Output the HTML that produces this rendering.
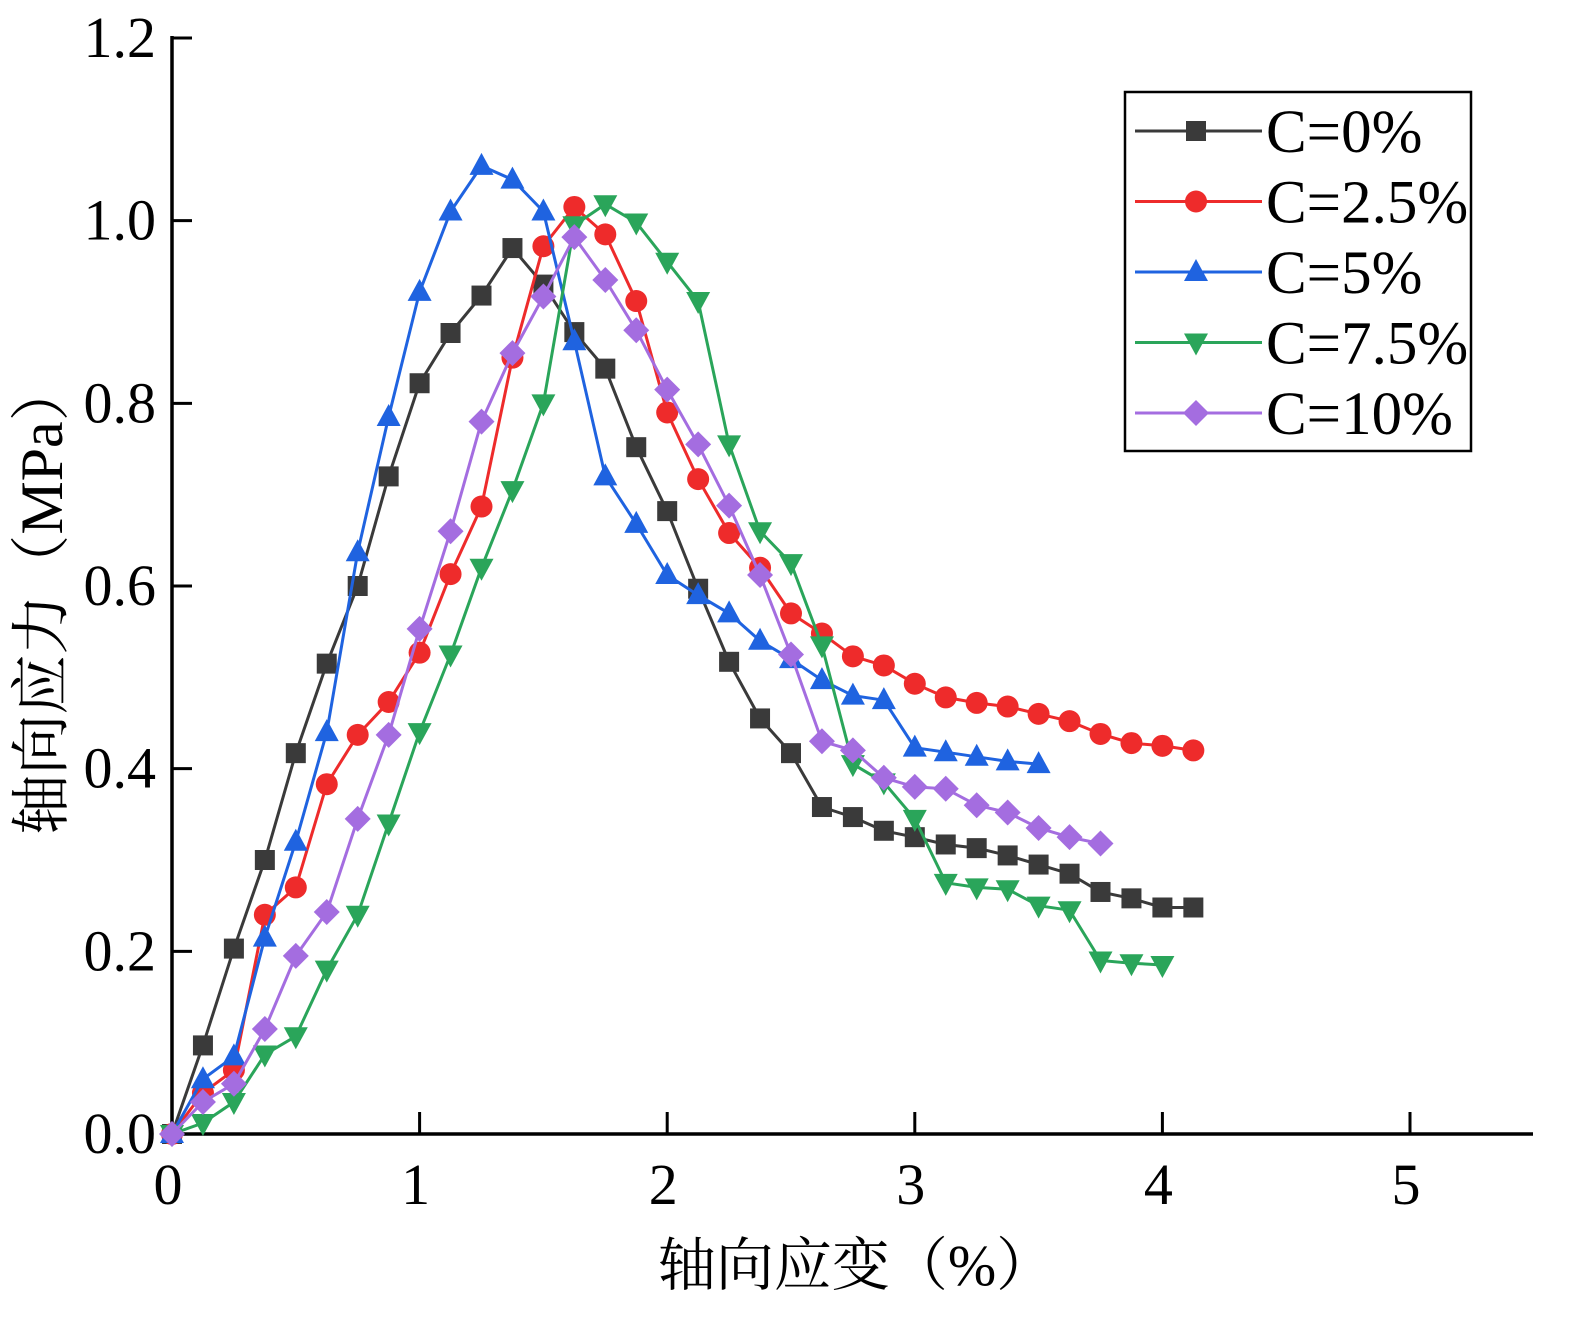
<!DOCTYPE html>
<html><head><meta charset="utf-8"><style>
html,body{margin:0;padding:0;background:#fff;}
svg{display:block;}
text{font-family:"Liberation Serif","Noto Serif CJK SC",serif;fill:#000;}
</style></head><body>
<svg id="chart" width="1596" height="1321" viewBox="0 0 1596 1321" xmlns="http://www.w3.org/2000/svg"></svg>
<script>
const xTicks=[0,1,2,3,4,5];
const yTicks=[0.0,0.2,0.4,0.6,0.8,1.0,1.2];
const yTickLabels=["0.0","0.2","0.4","0.6","0.8","1.0","1.2"];
const seriesNames=["C=0%","C=2.5%","C=5%","C=7.5%","C=10%"];
const strainStep=0.125;
const c0=[0,0.097,0.203,0.3,0.417,0.515,0.6,0.72,0.822,0.877,0.918,0.97,0.93,0.878,0.838,0.752,0.682,0.597,0.517,0.455,0.417,0.358,0.347,0.332,0.325,0.317,0.313,0.305,0.295,0.285,0.265,0.258,0.248,0.248];
const c25=[0,0.045,0.07,0.24,0.27,0.383,0.437,0.473,0.527,0.613,0.687,0.85,0.972,1.015,0.985,0.912,0.79,0.717,0.658,0.62,0.57,0.548,0.523,0.513,0.493,0.478,0.472,0.468,0.46,0.452,0.438,0.428,0.425,0.42];
const c5=[0,0.06,0.085,0.215,0.32,0.44,0.637,0.785,0.922,1.01,1.06,1.045,1.01,0.868,0.72,0.668,0.612,0.59,0.57,0.54,0.52,0.497,0.48,0.475,0.423,0.418,0.413,0.408,0.405];
const c75=[0,0.012,0.035,0.087,0.107,0.18,0.24,0.34,0.44,0.525,0.62,0.705,0.8,0.995,1.018,0.998,0.955,0.912,0.755,0.66,0.625,0.535,0.405,0.385,0.345,0.275,0.27,0.268,0.25,0.245,0.19,0.187,0.185];
const c10=[0,0.035,0.055,0.115,0.195,0.243,0.345,0.437,0.553,0.66,0.78,0.855,0.917,0.982,0.935,0.88,0.815,0.755,0.688,0.612,0.525,0.43,0.42,0.39,0.38,0.378,0.36,0.352,0.335,0.325,0.318];
const allSeries=[c0,c25,c5,c75,c10];
const colors=["#3a3a3a","#ee2b2b","#1f63e0","#2aa55a","#a46de0"];
const markers=["square","circle","up","down","diamond"];

const NS="http://www.w3.org/2000/svg";
const svg=document.getElementById('chart');
const X0=172,XU=247.6,Y0=1134,YT=38;
const sx=v=>X0+v*XU;
const sy=v=>Y0-(v/1.2)*(Y0-YT);
function el(t,a,p){const e=document.createElementNS(NS,t);for(const k in a)e.setAttribute(k,a[k]);(p||svg).appendChild(e);return e;}

const axes=el('g',{});


const ya=el('line',{x1:X0,y1:YT-2,x2:X0,y2:Y0+2,stroke:'#000','stroke-width':3.5},axes);

const xa=el('line',{x1:X0-2,y1:Y0,x2:1533,y2:Y0,stroke:'#000','stroke-width':3.5},axes);

xTicks.forEach(t=>{
  const l=el('line',{x1:sx(t),y1:Y0,x2:sx(t),y2:Y0-22,stroke:'#000','stroke-width':3},axes);
  
  const tx=el('text',{x:sx(t)-4,y:1204,'text-anchor':'middle','font-size':58},axes);
  tx.textContent=t;
  
});
yTicks.forEach((t,i)=>{
  const l=el('line',{x1:X0,y1:sy(t),x2:X0+20,y2:sy(t),stroke:'#000','stroke-width':3},axes);
  
  const tx=el('text',{x:156,y:sy(t)+19,'text-anchor':'end','font-size':58},axes);
  tx.textContent=yTickLabels[i];
  
});
const xt=el('text',{x:856,y:1285,'text-anchor':'middle','font-size':58});
xt.textContent='轴向应变（%）';

const yt=el('text',{x:0,y:0,'text-anchor':'middle','font-size':60,transform:'translate(62,598) rotate(-90)'});
yt.textContent='轴向应力（MPa）';


function marker(g,type,x,y,c){
  let m;
  if(type==='square')m=el('rect',{x:x-10,y:y-10,width:20,height:20,fill:c},g);
  else if(type==='circle')m=el('circle',{cx:x,cy:y,r:11,fill:c},g);
  else if(type==='up')m=el('polygon',{points:`${x},${y-13} ${x+12},${y+9} ${x-12},${y+9}`,fill:c},g);
  else if(type==='down')m=el('polygon',{points:`${x},${y+13} ${x+12},${y-9} ${x-12},${y-9}`,fill:c},g);
  else m=el('polygon',{points:`${x},${y-13} ${x+13},${y} ${x},${y+13} ${x-13},${y}`,fill:c},g);
  return m;
}
allSeries.forEach((s,i)=>{
  const g=el('g',{});
  
  
  const pts=s.map((v,j)=>sx(j*strainStep).toFixed(1)+','+sy(v).toFixed(1)).join(' ');
  const pl=el('polyline',{points:pts,fill:'none',stroke:colors[i],'stroke-width':3},g);
  
  s.forEach((v,j)=>{
    const m=marker(g,markers[i],sx(j*strainStep),sy(v),colors[i]);
    
    
  });
});
const lg=el('g',{});


el('rect',{x:1125,y:92,width:346,height:359,fill:'#fff',stroke:'#000','stroke-width':2.5},lg);
seriesNames.forEach((n,i)=>{
  const y=131+i*70.5;
  const e=el('g',{},lg);
  
  
  el('line',{x1:1135,y1:y,x2:1262,y2:y,stroke:colors[i],'stroke-width':3},e);
  marker(e,markers[i],1196,y,colors[i]);
  const t=el('text',{x:1266,y:y+21,'font-size':61},e);
  t.textContent=n;
});
</script>
</body></html>
